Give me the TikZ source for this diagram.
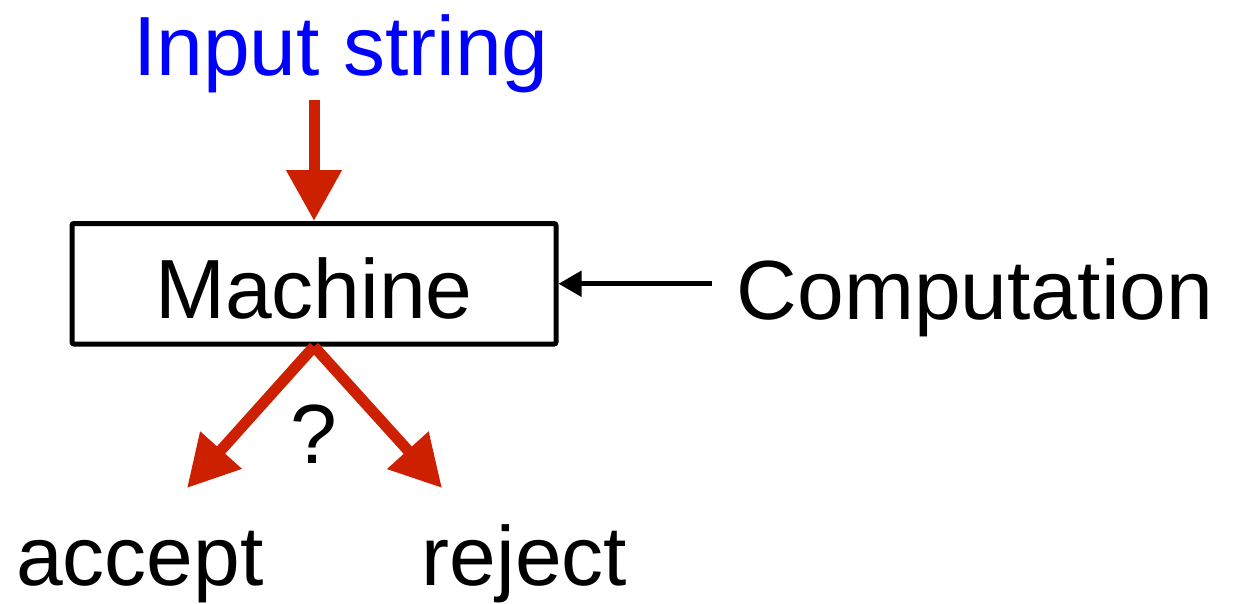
\documentclass[tikz,border=0pt]{standalone}
\usepackage{fontspec}
\setmainfont{Liberation Sans}
\usetikzlibrary{arrows.meta}
\definecolor{arrowred}{RGB}{204,32,0}
\definecolor{inputblue}{RGB}{0,0,255}
\begin{document}
\begin{tikzpicture}[x=1pt,y=-1pt,
  label text/.style={inner sep=0pt, anchor=base, font=\fontsize{84pt}{100pt}\selectfont},
  machinebox/.style={draw, line width=5pt, rounded corners=2pt, inner sep=0pt,
    minimum width=484pt, minimum height=120.5pt, text height=71pt,
    font=\fontsize{84pt}{100pt}\selectfont},
  bigarrow/.style={draw=arrowred, line width=11pt,
    -{Triangle[width=53pt,length=51pt,fill=arrowred]}},
  thinarrow/.style={draw=black, line width=5pt,
    -{Triangle[width=25pt,length=23pt]}}]
  \useasboundingbox (0,0) rectangle (1233,603);

  % the machine and its labels
  \node[machinebox] (machine) at (314,283.75) {Machine};
  \node[label text, text=inputblue] (input) at (341,75) {Input string};
  \node[label text] (comp) at (975,319) {Computation};
  \node[label text] (accept) at (140,585) {accept};
  \node[label text] (reject) at (524.5,585) {reject};
  \node[label text] (question) at (314,463) {?};

  % free ends of the connectors
  \coordinate (instart) at (314,100);
  \coordinate (compstart) at (712,283.75);
  \coordinate (acctip) at (187,488);
  \coordinate (rejtip) at (442,488);

  % connectors
  \draw[bigarrow] (instart) -- (machine.north);
  \draw[thinarrow] (compstart) -- (machine.east);
  \draw[bigarrow] (machine.south) -- (acctip);
  \draw[bigarrow] (machine.south) -- (rejtip);
\end{tikzpicture}
\end{document}
